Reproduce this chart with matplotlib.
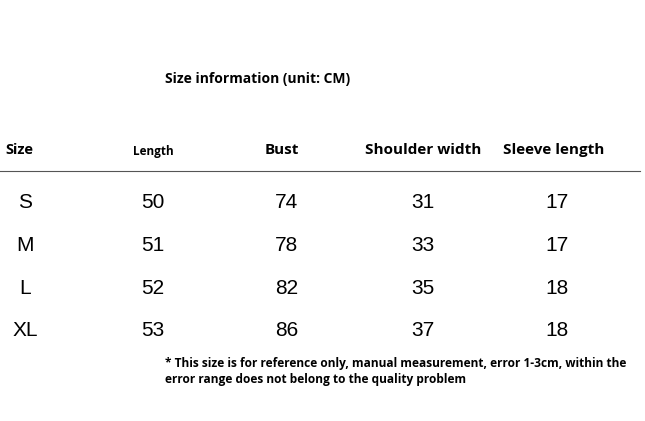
import matplotlib.pyplot as plt

W, H = 645, 421

title = "Size information (unit: CM)"
headers = ["Size", "Length", "Bust", "Shoulder width", "Sleeve length"]
sizes = ["S", "M", "L", "XL"]
length = [50, 51, 52, 53]
bust = [74, 78, 82, 86]
shoulder = [31, 33, 35, 37]
sleeve = [17, 17, 18, 18]
note = ["* This size is for reference only, manual measurement, error 1-3cm, within the",
        "error range does not belong to the quality problem"]

col_x = [25, 153, 287, 423, 557]
row_y = [202, 245, 289, 331]

fig = plt.figure(figsize=(W / 100, H / 100), dpi=100)
fig.patch.set_facecolor("white")


def px(x, y):
    return x / W, 1 - y / H


fig.text(*px(165, 79), title, fontsize=10, fontweight="bold",
         family="Open Sans", va="center", ha="left")

# headers
fig.text(*px(5, 150), headers[0], fontsize=10.5, fontweight="bold",
         family="Open Sans", va="center", ha="left")
fig.text(*px(col_x[1], 152), headers[1], fontsize=8.5, fontweight="bold",
         family="Open Sans", va="center", ha="center")
for x, h in zip([282, 423, 554], headers[2:]):
    fig.text(*px(x, 150), h, fontsize=11, fontweight="bold",
             family="Open Sans", va="center", ha="center")

line = plt.Line2D([0, 640 / W], [1 - 171 / H] * 2, color="#555555", lw=0.8,
                  transform=fig.transFigure)
fig.add_artist(line)

for i, y in enumerate(row_y):
    vals = [sizes[i], length[i], bust[i], shoulder[i], sleeve[i]]
    for x, v in zip(col_x, vals):
        fig.text(*px(x, y), str(v), fontsize=15, family="Liberation Sans",
                 va="center", ha="center")

for j, line_txt in enumerate(note):
    fig.text(*px(165, 364 + 15 * j), line_txt, fontsize=8.6, fontweight="bold",
             family="Open Sans", va="center", ha="left")

fig.savefig("out.png", dpi=100)
